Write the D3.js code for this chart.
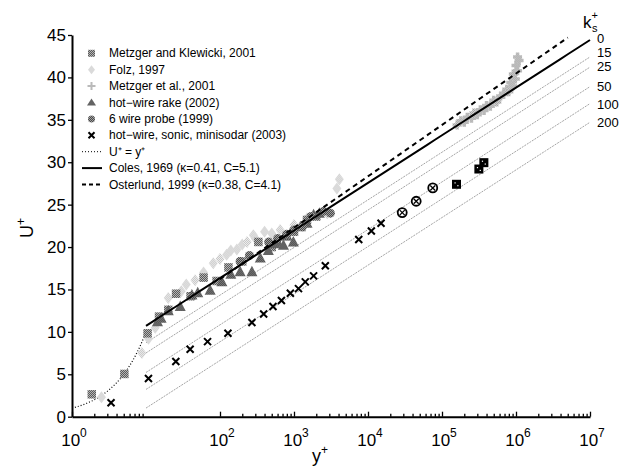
<!DOCTYPE html>
<html><head><meta charset="utf-8">
<script src="https://cdn.jsdelivr.net/npm/d3@7"></script>
<style>
body{margin:0;background:#fff}
svg{display:block;font-family:"Liberation Sans",Arial,Helvetica,sans-serif}
</style>
</head><body>
<svg id="chart" width="624" height="467"></svg>
<script>
// ---- data: [y+, U+] ----
const metzgerKlewicki = [[1.85,2.64],[5.1,5.04],[10.5,9.83],[15,11.8],[20,12.6],[25.5,14.5],[40,14.2],[60,16.4],[90,16.0],[130,17.6],[200,18.3],[330,20.6],[500,20.0],[800,21.3],[1000,21.8],[1500,23.2],[2000,23.6]];
const folz = [[2.5,2.3],[8.8,7.5],[10.8,9.2],[13.3,10.5],[20,14.0],[30,14.8],[35,15.6],[46,16.1],[60,17.0],[81,18.1],[100,18.6],[123,19.1],[140,19.6],[169,19.7],[200,20.3],[232,20.6],[282,21.4],[300,21.0],[400,21.8],[500,21.6],[650,22.0],[1000,22.6],[1500,23.4],[2800,24.0],[3800,26.9],[4100,28.0]];
const metzgerEtAl = [[1.6e5,34.4],[1.8e5,34.9],[2.0e5,34.7],[2.2e5,35.3],[2.5e5,35.2],[2.7e5,35.8],[3.0e5,35.6],[3.3e5,36.2],[3.7e5,36.1],[4.0e5,36.7],[4.5e5,36.6],[5.0e5,37.3],[5.5e5,37.1],[6.2e5,37.8],[6.8e5,38.0],[7.5e5,38.6],[8.0e5,38.3],[8.5e5,39.4],[9.0e5,39.0],[9.2e5,40.4],[9.8e5,39.8],[1.0e6,41.4],[1.05e6,40.8],[1.05e6,42.4],[1.1e6,42.0]];
const hotWireRake = [[14.3,11.2],[16,11.6],[20,12.5],[29,13.0],[41.7,14.35],[50,14.6],[73.6,14.9],[106,15.9],[140,16.8],[187,17.1],[270,17.1],[350,18.7],[450,19.6],[557,20.4],[600,20.6],[720,20.2],[800,21.3],[980,20.6],[1220,22.4],[1500,22.8],[1840,23.8],[2200,24.0]];
const sixWireProbe = [[187,18.3],[250,19.0],[455,20.6],[600,21.0],[800,21.5],[1000,22.0],[1300,22.4],[1700,23.6],[2500,24.2],[3100,24.0]];
const hotWireSonicSodar = [[3.37,1.65],[10.8,4.5],[25.3,6.5],[39.5,7.95],[67.9,8.85],[128,9.83],[270,11.1],[389,12.1],[520,13.0],[676,13.7],[893,14.55],[1150,15.1],[1420,15.9],[1840,16.6],[2650,17.8],[7500,20.9],[11100,21.9],[15000,22.8]];
const sonicCircled = [[29000,24.06],[44800,25.4],[75000,26.97]];
const sodarBoxed = [[157000,27.4],[315000,29.2],[368000,29.95]];

const ksValues = [15,25,50,100,200];
const ksShift = [2.0,3.2,5.5,7.5,9.7];
const ksLabels = ["0","15","25","50","100","200"];

const xTickExponents = [0,2,3,4,5,6,7];
const yTickValues = [0,5,10,15,20,25,30,35,40,45];

const legendLabels = ["Metzger and Klewicki, 2001","Folz, 1997","Metzger et al., 2001","hot\u2212wire rake (2002)","6 wire probe (1999)","hot\u2212wire, sonic, minisodar (2003)","U\u207A = y\u207A","Coles, 1969 (\u03BA=0.41, C=5.1)","Osterlund, 1999 (\u03BA=0.38, C=4.1)"];

// ---- log-law helpers ----
const coles = yp => Math.log(yp)/0.41 + 5.1;
const osterlund = yp => Math.log(yp)/0.38 + 4.1;

const svg = d3.select("#chart");
const x = d3.scaleLog().domain([1,1e7]).range([72,590]);
const y = d3.scaleLinear().domain([0,45]).range([416.7,35]);

// fill patterns (dithered greys)
const defs = svg.append("defs");
function checker(id, a, b){
  const p = defs.append("pattern").attr("id",id).attr("width",2).attr("height",2).attr("patternUnits","userSpaceOnUse");
  p.append("rect").attr("width",2).attr("height",2).attr("fill",a);
  p.append("rect").attr("width",1).attr("height",1).attr("fill",b);
  p.append("rect").attr("x",1).attr("y",1).attr("width",1).attr("height",1).attr("fill",b);
}
checker("pMK","#5a5a5a","#b4b4b4");
checker("pFolz","#c4c4c4","#f0f0f0");
checker("pMet","#989898","#dcdcdc");
checker("pRake","#3c3c3c","#8a8a8a");
checker("pProbe","#4a4a4a","#a0a0a0");

const plot = svg.append("g");

// rough-wall log-law lines
const logSamples = d3.range(0, 61).map(i => Math.pow(10, 1 + i*6/60));
const line = d3.line().x(d => x(d[0])).y(d => y(d[1]));
ksShift.forEach(s => {
  plot.append("path")
    .attr("d", line(logSamples.map(v => [v, coles(v)-s])))
    .attr("fill","none").attr("stroke","#9a9a9a").attr("stroke-width",0.9)
    .attr("stroke-dasharray","2,1");
});

// viscous sublayer U+ = y+
const visc = d3.range(0,41).map(i => Math.pow(10, i/40));
plot.append("path").attr("d", line(visc.map(v => [v, v])))
  .attr("fill","none").attr("stroke","#000").attr("stroke-width",1.2).attr("stroke-dasharray","1,2");

// markers
function squares(data, fill, s){
  plot.append("g").selectAll("rect").data(data).join("rect")
    .attr("x", d => x(d[0]) - s/2).attr("y", d => y(d[1]) - s/2)
    .attr("width", s).attr("height", s).attr("fill", fill);
}
function diamonds(data, fill){
  plot.append("g").selectAll("path").data(data).join("path")
    .attr("transform", d => `translate(${x(d[0])},${y(d[1])})`)
    .attr("d","M0,-6L4.5,0L0,6L-4.5,0Z").attr("fill", fill);
}
function pluses(data, color){
  plot.append("g").selectAll("path").data(data).join("path")
    .attr("transform", d => `translate(${x(d[0])},${y(d[1])})`)
    .attr("d","M-4.5,0H4.5M0,-4.5V4.5").attr("stroke", color).attr("stroke-width",3.5).attr("fill","none");
}
function triangles(data, fill){
  plot.append("g").selectAll("path").data(data).join("path")
    .attr("transform", d => `translate(${x(d[0])},${y(d[1])})`)
    .attr("d","M0,-6L5.5,4.5L-5.5,4.5Z").attr("fill", fill);
}
function circles(data, fill){
  plot.append("g").selectAll("circle").data(data).join("circle")
    .attr("cx", d => x(d[0])).attr("cy", d => y(d[1])).attr("r",4.5).attr("fill", fill);
}
function crosses(data){
  plot.append("g").selectAll("path").data(data).join("path")
    .attr("transform", d => `translate(${x(d[0])},${y(d[1])})`)
    .attr("d","M-3.5,-3.5L3.5,3.5M-3.5,3.5L3.5,-3.5").attr("stroke","#000").attr("stroke-width",2).attr("fill","none");
}

diamonds(folz, "url(#pFolz)");
pluses(metzgerEtAl, "url(#pMet)");
squares(metzgerKlewicki, "url(#pMK)", 8.5);
triangles(hotWireRake, "url(#pRake)");
circles(sixWireProbe, "url(#pProbe)");
crosses(hotWireSonicSodar);

// circled crosses
const cg = plot.append("g").selectAll("g").data(sonicCircled).join("g")
  .attr("transform", d => `translate(${x(d[0])},${y(d[1])})`);
cg.append("circle").attr("r",4.5).attr("fill","#fff").attr("stroke","#000").attr("stroke-width",1.8);
cg.append("path").attr("d","M-2.5,-2.5L2.5,2.5M-2.5,2.5L2.5,-2.5").attr("stroke","#000").attr("stroke-width",1.3);

// boxed dots
const bg = plot.append("g").selectAll("g").data(sodarBoxed).join("g")
  .attr("transform", d => `translate(${x(d[0])},${y(d[1])})`);
bg.append("rect").attr("x",-4.5).attr("y",-4.5).attr("width",9).attr("height",9).attr("fill","#000");
bg.append("rect").attr("x",-2).attr("y",-2).attr("width",1.2).attr("height",1.2).attr("fill","#fff");
bg.append("rect").attr("x",0.8).attr("y",0.8).attr("width",1.2).attr("height",1.2).attr("fill","#fff");

// smooth-wall log laws
const smooth = d3.range(0,61).map(i => Math.pow(10, 1 + i*6/60));
plot.append("path").attr("d", line(smooth.map(v => [v, coles(v)])))
  .attr("fill","none").attr("stroke","#000").attr("stroke-width",2);
const oster = d3.range(0,61).map(i => Math.pow(10, 2 + i*4.7/60));
plot.append("path").attr("d", line(oster.map(v => [v, osterlund(v)])))
  .attr("fill","none").attr("stroke","#000").attr("stroke-width",2).attr("stroke-dasharray","5,4");

// ---- axes ----
const majors = xTickExponents.map(e => Math.pow(10,e));
const minors = [];
[0,2,3,4,5,6].forEach(e => { for (let m=2;m<=9;m++) minors.push(m*Math.pow(10,e)); });

const xAxisG = svg.append("g").attr("transform",`translate(0,${y(0)})`);
xAxisG.call(d3.axisBottom(x).tickValues(majors).tickSize(-5).tickSizeOuter(0).tickFormat(""));
const xMinorG = svg.append("g").attr("transform",`translate(0,${y(0)})`);
xMinorG.call(d3.axisBottom(x).tickValues(minors).tickSize(-3).tickSizeOuter(0).tickFormat(""));
xMinorG.select(".domain").remove();
[xAxisG, xMinorG].forEach(g => g.selectAll("line,path").attr("stroke","#000").attr("stroke-width",1.3));
xAxisG.select(".domain").attr("stroke-width",2);

const xl = svg.append("g").attr("font-size",17);
xTickExponents.forEach(e => {
  const t = xl.append("text").attr("x", x(Math.pow(10,e))+2).attr("y",446).attr("text-anchor","middle");
  t.append("tspan").text("10");
  t.append("tspan").attr("dy",-9).attr("font-size",12).text(e);
});

const yAxisG = svg.append("g").attr("transform",`translate(${x(1)},0)`);
yAxisG.call(d3.axisLeft(y).tickValues(yTickValues).tickSize(4).tickSizeOuter(0).tickPadding(2));
yAxisG.selectAll("line").attr("stroke","#000").attr("stroke-width",1.3);
yAxisG.select(".domain").attr("stroke","#000").attr("stroke-width",2);
yAxisG.selectAll("text").attr("font-size",17).attr("font-family","Liberation Sans, Arial, sans-serif").attr("fill","#000");

// axis titles
const xt = svg.append("text").attr("x",320).attr("y",462).attr("text-anchor","middle").attr("font-size",18);
xt.append("tspan").text("y");
xt.append("tspan").attr("dy",-8).attr("font-size",12).text("+");
const yt = svg.append("text").attr("transform","translate(33,228) rotate(-90)").attr("text-anchor","middle").attr("font-size",18);
yt.append("tspan").text("U");
yt.append("tspan").attr("dy",-8).attr("font-size",12).text("+");

// k_s+ labels
const kt = svg.append("text").attr("x",583).attr("y",28).attr("font-size",17);
kt.append("tspan").text("k");
kt.append("tspan").attr("dy",-9).attr("font-size",11).text("+");
kt.append("tspan").attr("x",592).attr("dy",13).attr("font-size",11).text("s");
const ksLabelY = [38,52,66,86,104,122];
svg.append("g").selectAll("text").data(ksLabels).join("text")
  .attr("x",597).attr("y",(d,i) => ksLabelY[i]+4.5).attr("font-size",13).text(d => d);

// ---- legend ----
const lg = svg.append("g").attr("font-size",12);
const rowY = i => 53.3 + i*16.4;
legendLabels.forEach((t,i) => {
  lg.append("text").attr("x",109).attr("y",rowY(i)+4).text(t);
});
const mx = 91.5;
lg.append("rect").attr("x",mx-3.5).attr("y",rowY(0)-3.5).attr("width",7).attr("height",7).attr("fill","url(#pMK)");
lg.append("path").attr("transform",`translate(${mx},${rowY(1)})`).attr("d","M0,-4.5L3.5,0L0,4.5L-3.5,0Z").attr("fill","url(#pFolz)");
lg.append("path").attr("transform",`translate(${mx},${rowY(2)})`).attr("d","M-4,0H4M0,-4V4").attr("stroke","url(#pMet)").attr("stroke-width",2);
lg.append("path").attr("transform",`translate(${mx},${rowY(3)})`).attr("d","M0,-4L4.5,3L-4.5,3Z").attr("fill","url(#pRake)");
lg.append("circle").attr("cx",mx).attr("cy",rowY(4)).attr("r",3.5).attr("fill","url(#pProbe)");
lg.append("path").attr("transform",`translate(${mx},${rowY(5)})`).attr("d","M-3,-3L3,3M-3,3L3,-3").attr("stroke","#000").attr("stroke-width",2);
lg.append("line").attr("x1",82).attr("x2",102).attr("y1",rowY(6)).attr("y2",rowY(6)).attr("stroke","#000").attr("stroke-width",1).attr("stroke-dasharray","1,2");
lg.append("line").attr("x1",82).attr("x2",102).attr("y1",rowY(7)).attr("y2",rowY(7)).attr("stroke","#000").attr("stroke-width",2);
lg.append("line").attr("x1",82).attr("x2",102).attr("y1",rowY(8)).attr("y2",rowY(8)).attr("stroke","#000").attr("stroke-width",2).attr("stroke-dasharray","4,3");
</script>
</body></html>
